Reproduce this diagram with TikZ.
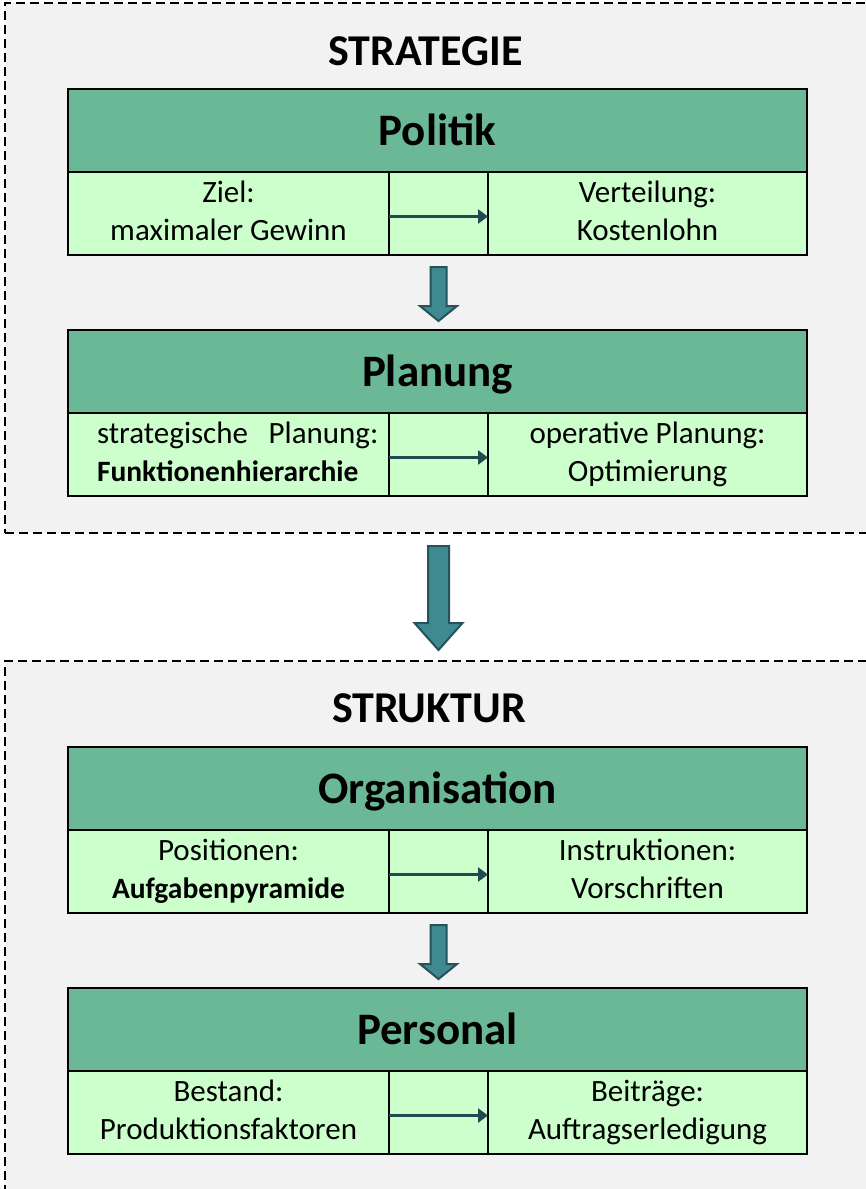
\documentclass[tikz,border=0pt]{standalone}
\usepackage{fontspec}
\setmainfont{Carlito}
\usetikzlibrary{arrows.meta,calc}

\definecolor{zonegray}{RGB}{242,242,242}
\definecolor{headgreen}{RGB}{107,184,151}
\definecolor{cellgreen}{RGB}{204,255,204}
\definecolor{arrowteal}{RGB}{62,138,144}
\definecolor{arrowedge}{RGB}{36,84,90}
\definecolor{flowdark}{RGB}{33,74,80}

\tikzset{
  zone/.style={draw=black,fill=zonegray,dash pattern=on 9pt off 5pt,line width=1.5pt,outer sep=0pt,inner sep=0pt},
  title/.style={font=\fontsize{44}{50}\selectfont\bfseries,inner sep=0pt},
  head/.style={draw=black,fill=headgreen,line width=1.6pt,outer sep=0pt,inner sep=0pt,
    minimum width=739pt,minimum height=83pt,text height=29pt,text depth=0pt,
    font=\fontsize{45}{50}\selectfont\bfseries},
  cell/.style={draw=black,fill=cellgreen,line width=1.6pt,outer sep=0pt,inner sep=0pt,
    minimum height=83pt,align=center,font=\fontsize{31}{38}\selectfont},
  midcell/.style={cell,minimum width=99pt},
  flow/.style={draw=flowdark,line width=2.8pt,-{Triangle[length=10pt,width=14pt]}},
  blockarr/.style={fill=arrowteal,draw=arrowedge,line width=2pt,line join=miter}
}

% two lines with struts
\newcommand{\twoline}[2]{\strut#1\\\strut#2}
% bold line, a bit smaller
\newcommand{\strongline}[1]{{\fontsize{29.5}{38}\selectfont\bfseries #1}}
% block arrow: from, to, shaft half width, head half width, head length
\newcommand{\blockarrow}[5]{%
  \draw[blockarr] let \p1=(#1), \p2=(#2) in
    (\x1-#3pt,\y1) -- (\x1+#3pt,\y1) -- (\x1+#3pt,\y2+#5pt) -- (\x1+#4pt,\y2+#5pt)
    -- (\x1,\y2) -- (\x1-#4pt,\y2+#5pt) -- (\x1-#3pt,\y2+#5pt) -- cycle;}

\begin{document}
\begin{tikzpicture}[x=1pt,y=-1pt]
  \useasboundingbox (0,0) rectangle (866,1189);

  % dashed zones
  \node[zone,anchor=north west,minimum width=900pt,minimum height=530pt] (strat) at (5,3) {};
  \node[zone,anchor=north west,minimum width=900pt,minimum height=560pt] (struk) at (5,661) {};
  \node[title,anchor=base] (tstrat) at (425.5,65) {STRATEGIE};
  \node[title,anchor=base] (tstruk) at (429,722) {STRUKTUR};

  % Politik
  \node[head] (politik) at (437.5,130.5) {Politik};
  \node[cell,minimum width=321pt,anchor=north west] (ziel) at (politik.south west) {\twoline{Ziel:}{maximaler Gewinn}};
  \node[midcell,anchor=west] (pmid) at (ziel.east) {};
  \node[cell,minimum width=319pt,anchor=west] (verteil) at (pmid.east) {\twoline{Verteilung:}{Kostenlohn}};
  \draw[flow] ([yshift=-3pt]ziel.east) -- ([yshift=-3pt]verteil.west);

  % Planung
  \node[head] (planung) at (437.5,371.5) {Planung};
  \node[cell,minimum width=321pt,text width=263pt,inner xsep=29pt,align=left,anchor=north west] (strplan) at (planung.south west)
    {\twoline{\mbox{strategische~ Planung:}}{\strongline{Funktionenhierarchie}}};
  \node[midcell,anchor=west] (plmid) at (strplan.east) {};
  \node[cell,minimum width=319pt,anchor=west] (opplan) at (plmid.east) {\twoline{operative Planung:}{Optimierung}};
  \draw[flow] ([yshift=-3pt]strplan.east) -- ([yshift=-3pt]opplan.west);

  % Organisation
  \node[head] (orga) at (437.5,788.5) {Organisation};
  \node[cell,minimum width=321pt,anchor=north west] (posi) at (orga.south west) {\twoline{Positionen:}{\strongline{Aufgabenpyramide}}};
  \node[midcell,anchor=west] (omid) at (posi.east) {};
  \node[cell,minimum width=319pt,anchor=west] (instr) at (omid.east) {\twoline{Instruktionen:}{Vorschriften}};
  \draw[flow] ([yshift=-3pt]posi.east) -- ([yshift=-3pt]instr.west);

  % Personal
  \node[head] (personal) at (437.5,1029.5) {Personal};
  \node[cell,minimum width=321pt,anchor=north west] (bestand) at (personal.south west) {\twoline{Bestand:}{Produktionsfaktoren}};
  \node[midcell,anchor=west] (pemid) at (bestand.east) {};
  \node[cell,minimum width=319pt,anchor=west] (beitr) at (pemid.east) {\twoline{Beiträge:}{Auftragserledigung}};
  \draw[flow] ([yshift=-3pt]bestand.east) -- ([yshift=-3pt]beitr.west);

  % block arrows
  \coordinate (bigtop) at (strat.south -| pmid);
  \coordinate (bigtip) at (struk.north -| pmid);
  \blockarrow{[yshift=-12pt]pmid.south}{[yshift=9pt]planung.north}{8}{18.5}{15}
  \blockarrow{[yshift=-13pt]bigtop}{[yshift=11pt]bigtip}{10.5}{24}{27}
  \blockarrow{[yshift=-12pt]omid.south}{[yshift=9pt]personal.north}{8}{18.5}{15}
\end{tikzpicture}
\end{document}
